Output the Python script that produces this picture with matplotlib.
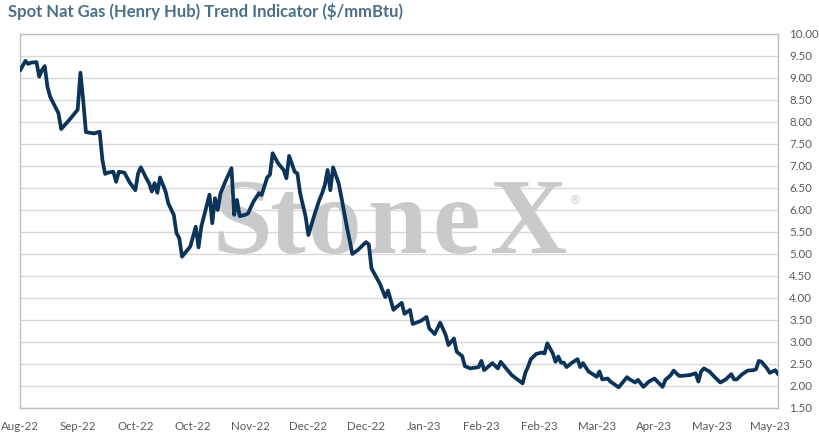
import numpy as np
import matplotlib
matplotlib.use("Agg")
import matplotlib.pyplot as plt
import matplotlib.dates as mdates

# ---- data ----
start_date = "2022-08-22"
day_offset = [0, 2, 3, 4, 6, 7, 8, 9, 10, 11, 14, 15, 18, 21, 22, 23, 24, 27, 29, 30,
              31, 32, 34, 35, 36, 38, 40, 42, 43, 44, 46, 47, 48, 49, 50, 51, 53, 54, 56, 57,
              58, 59, 62, 64, 65, 66, 69, 70, 71, 72, 73, 75, 77, 78, 79, 80, 82, 83, 85, 87,
              88, 90, 91, 92, 94, 96, 97, 98, 100, 101, 102, 104, 105, 107, 109, 110, 111, 112, 113, 114,
              116, 117, 118, 119, 120, 121, 123, 126, 127, 128, 131, 133, 134, 136, 137, 139, 140, 142, 143, 146,
              148, 149, 151, 153, 155, 156, 158, 159, 161, 162, 164, 167, 168, 169, 172, 174, 175, 177, 179, 183,
              184, 185, 186, 188, 190, 191, 192, 194, 195, 196, 197, 198, 199, 201, 203, 204, 205, 207, 209, 210,
              211, 212, 214, 215, 218, 221, 222, 224, 225, 227, 229, 231, 234, 235, 237, 238, 240, 241, 244, 246,
              247, 248, 249, 251, 253, 255, 257, 259, 260, 261, 263, 265, 267, 268, 269, 270, 272, 273, 275, 276]
price = [9.17, 9.39, 9.32, 9.35, 9.36, 9.03, 9.18, 9.27, 8.80, 8.57, 8.20, 7.84, 8.05, 8.28, 9.12, 8.50, 7.77, 7.74, 7.78, 7.14,
         6.82, 6.85, 6.87, 6.64, 6.87, 6.85, 6.62, 6.45, 6.83, 6.97, 6.72, 6.61, 6.42, 6.61, 6.39, 6.74, 6.42, 6.15, 5.89, 5.47,
         5.36, 4.94, 5.17, 5.62, 5.15, 5.62, 6.35, 5.70, 6.27, 6.00, 6.38, 6.68, 6.95, 5.89, 6.23, 5.86, 5.89, 5.92, 6.19, 6.38,
         6.34, 6.74, 6.80, 7.29, 7.06, 6.91, 6.72, 7.23, 6.87, 6.83, 6.38, 5.85, 5.43, 5.85, 6.23, 6.38, 6.57, 6.91, 6.45, 6.97,
         6.61, 6.30, 5.96, 5.62, 5.32, 5.00, 5.09, 5.27, 5.22, 4.67, 4.33, 4.02, 4.17, 3.73, 3.79, 3.89, 3.64, 3.73, 3.41, 3.48,
         3.57, 3.31, 3.18, 3.44, 3.16, 2.93, 3.08, 2.78, 2.68, 2.45, 2.40, 2.43, 2.57, 2.36, 2.52, 2.40, 2.55, 2.40, 2.25, 2.06,
         2.30, 2.44, 2.61, 2.73, 2.76, 2.74, 2.97, 2.74, 2.55, 2.67, 2.53, 2.53, 2.43, 2.53, 2.61, 2.43, 2.52, 2.33, 2.25, 2.21,
         2.33, 2.15, 2.17, 2.10, 1.97, 2.20, 2.15, 2.08, 2.14, 1.98, 2.10, 2.17, 1.98, 2.14, 2.25, 2.35, 2.23, 2.23, 2.25, 2.29,
         2.10, 2.33, 2.40, 2.33, 2.20, 2.08, 2.15, 2.27, 2.15, 2.15, 2.27, 2.35, 2.36, 2.38, 2.57, 2.55, 2.40, 2.30, 2.36, 2.27]
tick_step_days = 21
n_ticks = 14
axis_span_days = 276
y_ticks = [1.5, 2.0, 2.5, 3.0, 3.5, 4.0, 4.5, 5.0, 5.5, 6.0, 6.5, 7.0, 7.5, 8.0, 8.5, 9.0, 9.5, 10.0]
title = "Spot Nat Gas (Henry Hub) Trend Indicator ($/mmBtu)"
watermark_letters = ["S", "t", "o", "n", "e", "X"]

# ---- plot ----
base = np.datetime64(start_date)
dates = base + np.array(day_offset).astype("timedelta64[D]")
tick_dates = base + (np.arange(n_ticks) * tick_step_days).astype("timedelta64[D]")

plt.rcParams['font.family'] = ['Lato', 'DejaVu Sans']

fig = plt.figure(figsize=(8.2, 4.45), dpi=100)
ax_left, ax_w = 20 / 820, 758 / 820
ax = fig.add_axes([ax_left, 37 / 445, ax_w, 374 / 445])

ax.plot(dates, price, color='#0c3358', lw=2.7, solid_joinstyle='round',
        solid_capstyle='round', zorder=3)

ax.set_xlim(base, base + np.timedelta64(axis_span_days, 'D'))
ax.set_ylim(1.5, 10.0)
ax.set_yticks(y_ticks)
ax.set_yticklabels([f"{v:.2f}" for v in y_ticks])
ax.set_xticks(tick_dates)
ax.xaxis.set_major_formatter(mdates.DateFormatter('%b-%y'))

ax.yaxis.tick_right()
ax.grid(axis='y', color='#d9d9d9', lw=1.0, zorder=1)
ax.set_axisbelow(True)
for side in ['left', 'right', 'top', 'bottom']:
    ax.spines[side].set_color('#bfbfbf')
    ax.spines[side].set_linewidth(1.0)
ax.tick_params(axis='both', length=0, labelsize=8.3, colors='#595959')
ax.tick_params(axis='y', pad=8)
ax.tick_params(axis='x', pad=9)
for lab in ax.get_yticklabels():
    lab.set_horizontalalignment('left')

# watermark (letter-spaced logo text)
letter_px = [242, 287.5, 335, 397, 456.5, 528.5]
for ch, px in zip(watermark_letters, letter_px):
    ax.text((px - 20) / 758, 0.414, ch, transform=ax.transAxes, ha='center', va='baseline',
            fontsize=77, fontweight='bold', family='Liberation Serif', color='#c9cacc', zorder=2)
ax.text((575 - 20) / 758, 0.555, "\u00ae", transform=ax.transAxes, ha='center', va='center',
        fontsize=9, family='DejaVu Sans', color='#c9cacc', zorder=2)

fig.text(8 / 820, 1 - 12 / 445, title, ha='left', va='center', fontsize=12,
         fontweight='bold', color='#4a6f8a')

fig.savefig("out.png", dpi=100)
